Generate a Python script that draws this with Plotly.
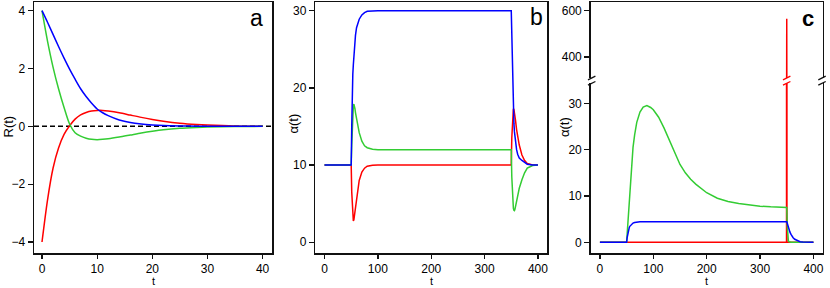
import plotly.graph_objects as go

W, H = 830, 288
def px(x): return x / W
def py(y): return 1 - y / H

RED, GREEN, BLUE = "#FF0000", "#33CC33", "#0000FF"

# ---------------- panel a ----------------
t_a = [0, 1, 2, 3, 4, 5, 6, 7, 8, 9, 10, 11, 12, 14, 16, 18, 20, 22, 25, 28, 30, 35, 40]
blue_a = [4.0, 3.6, 3.18, 2.76, 2.36, 1.98, 1.63, 1.3, 1.03, 0.8, 0.6, 0.47, 0.37, 0.22, 0.13, 0.08,
          0.05, 0.03, 0.015, 0.006, 0.004, 0.001, 0.0]
green_a = [4.0, 2.95, 2.05, 1.3, 0.65, 0.08, -0.22, -0.34, -0.41, -0.45, -0.46, -0.45, -0.43, -0.37,
           -0.3, -0.23, -0.17, -0.12, -0.07, -0.04, -0.025, -0.008, 0.0]
red_a = [-4.0, -2.55, -1.45, -0.75, -0.28, 0.02, 0.25, 0.4, 0.48, 0.53, 0.55, 0.55, 0.53, 0.47,
         0.39, 0.31, 0.24, 0.18, 0.11, 0.065, 0.045, 0.015, 0.003]

# ---------------- panel b ----------------
t_b = [0, 50, 51, 52, 53, 54, 55, 56, 57, 58, 60, 62, 65, 70, 75, 80, 90, 100,
       350, 351, 352, 353, 354, 355, 356, 357, 358, 360, 362, 365, 370, 375, 380, 390, 400]
blue_b = [10, 10, 15, 20, 21.8, 23.0, 24.4, 25.4, 26.2, 26.8, 27.8, 28.4, 28.9, 29.45, 29.75, 29.92, 29.99, 30,
          30, 26, 22.5, 19.5, 17, 15.4, 14.3, 13.5, 12.9, 12.0, 11.4, 10.9, 10.6, 10.3, 10.12, 10.02, 10]
green_b = [10, 10, 12.5, 15, 16.8, 17.7, 17.9, 17.7, 17.3, 16.8, 15.9, 15.0, 14.2, 13.1, 12.5, 12.25, 12.05, 12,
           12, 8.5, 6.2, 5.0, 4.4, 4.15, 4.1, 4.3, 4.7, 5.5, 6.1, 7.0, 8.1, 9.0, 9.6, 9.95, 10]
red_b = [10, 10, 6.5, 4.2, 3.0, 2.75, 2.9, 3.4, 3.9, 4.5, 5.6, 6.7, 8.0, 9.1, 9.6, 9.85, 9.98, 10,
         10, 13.5, 15.8, 16.9, 17.3, 17.2, 16.8, 16.3, 15.8, 14.6, 13.8, 12.6, 11.3, 10.6, 10.2, 10.02, 10]

# ---------------- panel c ----------------
t_c = [0, 50, 51, 52, 53, 54, 55, 56, 59, 62, 65, 69, 75, 81, 88, 95,
       100, 110, 120, 130, 140, 150, 160, 170, 180, 190, 200, 220, 240, 260, 280, 300,
       320, 340, 350, 351, 352, 353, 354, 356, 358, 360, 362, 365, 370, 375, 380, 390, 400]
green_c = [0, 0, 1.8, 3.5, 5.2, 7.0, 8.8, 10.5, 15.5, 20.5, 23.2, 25.9, 28.1, 29.2, 29.5, 29.1,
           28.6, 27.0, 24.7, 22.0, 19.2, 16.8, 15.0, 13.6, 12.5, 11.5, 10.7, 9.5, 8.8, 8.35, 8.0, 7.8,
           7.65, 7.55, 7.5, 3.5, 1.2, 0.4, 0.15, 0.03, 0, 0, 0, 0, 0, 0, 0, 0, 0]
blue_c = [0, 0, 1.0, 1.8, 2.4, 2.85, 3.2, 3.45, 3.9, 4.15, 4.28, 4.38, 4.42, 4.44, 4.45, 4.45,
          4.45, 4.45, 4.45, 4.45, 4.45, 4.45, 4.45, 4.45, 4.45, 4.45, 4.45, 4.45, 4.45, 4.45, 4.45, 4.45,
          4.45, 4.45, 4.45, 4.1, 3.6, 3.2, 2.8, 2.2, 1.7, 1.3, 1.0, 0.65, 0.3, 0.13, 0.05, 0.01, 0]
t_red_c = [0, 349.6, 350, 350.4, 400]
red_c = [0, 0, 565, 0, 0]

fig = go.Figure()
line_kw = dict(width=1.5)

for ys, col in [(red_a, RED), (green_a, GREEN), (blue_a, BLUE)]:
    fig.add_trace(go.Scatter(x=t_a, y=ys, mode="lines", line=dict(color=col, shape="spline", smoothing=0.8, **line_kw),
                             xaxis="x", yaxis="y", showlegend=False, hoverinfo="skip"))
for ys, col in [(red_b, RED), (green_b, GREEN), (blue_b, BLUE)]:
    fig.add_trace(go.Scatter(x=t_b, y=ys, mode="lines", line=dict(color=col, **line_kw),
                             xaxis="x2", yaxis="y2", showlegend=False, hoverinfo="skip"))
for xs, ys, col in [(t_red_c, red_c, RED), (t_c, green_c, GREEN), (t_c, blue_c, BLUE)]:
    fig.add_trace(go.Scatter(x=xs, y=ys, mode="lines", line=dict(color=col, **line_kw),
                             xaxis="x3", yaxis="y3", showlegend=False, hoverinfo="skip"))
# upper part of the broken axis: only the red spike reaches it
fig.add_trace(go.Scatter(x=t_red_c, y=red_c, mode="lines", line=dict(color=RED, **line_kw),
                         xaxis="x4", yaxis="y4", showlegend=False, hoverinfo="skip"))

FONT = "Liberation Sans, Arial, Helvetica, sans-serif"
LC = "#111111"
ax_common = dict(showline=True, linecolor=LC, linewidth=1.5, ticks="outside", ticklen=5,
                 tickwidth=1.3, tickcolor=LC, showgrid=False, zeroline=False,
                 tickfont=dict(family=FONT, size=12, color="black"))
xax_common = dict(ax_common, ticklen=4)

ybot, ytop = py(253), py(2)
fig.update_layout(
    width=W, height=H, margin=dict(l=0, r=0, t=0, b=0),
    paper_bgcolor="white", plot_bgcolor="white",
    xaxis=dict(domain=[px(34), px(272)], range=[-1.45, 41.7], anchor="y", mirror=True,
               tickvals=[0, 10, 20, 30, 40], **xax_common),
    yaxis=dict(domain=[ybot, ytop], range=[-4.38, 4.30], anchor="x", mirror=True,
               tickvals=[-4, -2, 0, 2, 4], **ax_common),
    xaxis2=dict(domain=[px(315.3), px(547)], range=[-17.3, 417], anchor="y2", mirror=True,
                tickvals=[0, 100, 200, 300, 400], **xax_common),
    yaxis2=dict(domain=[ybot, ytop], range=[-1.39, 31.13], anchor="x2", mirror=True,
                tickvals=[0, 10, 20, 30], **ax_common),
    xaxis3=dict(domain=[px(590.7), px(822.5)], range=[-17.3, 417], anchor="y3", mirror=False,
                tickvals=[0, 100, 200, 300, 400], **xax_common),
    yaxis3=dict(domain=[ybot, py(83.3)], range=[-2.31, 34.32], anchor="x3", mirror=True,
                tickvals=[0, 10, 20, 30], **ax_common),
    xaxis4=dict(domain=[px(590.7), px(822.5)], range=[-17.3, 417], anchor="y4", side="top",
                showline=True, linecolor=LC, linewidth=1.5, ticks="", showticklabels=False,
                showgrid=False, zeroline=False),
    yaxis4=dict(domain=[py(78), ytop], range=[309.3, 637.6], anchor="x4", mirror=True,
                tickvals=[400, 600], **ax_common),
)

shapes = [dict(type="line", xref="x domain", yref="y", x0=0, x1=1, y0=0, y1=0, layer="below",
               line=dict(color="black", width=1.5, dash="5px,3px"))]
# break marks
for xc, col in [(591.7, LC), (822.0, LC), (786.7, RED)]:
    for yc in (78.0, 83.3):
        shapes.append(dict(type="line", xref="paper", yref="paper",
                           x0=px(xc - 3.7), y0=py(yc + 1.8), x1=px(xc + 3.7), y1=py(yc - 1.8),
                           line=dict(color=col, width=1.3)))
fig.update_layout(shapes=shapes)

ann = []
def text(x, y, s, size=12, angle=0, yanchor="middle", pad=1):
    ann.append(dict(x=px(x), y=py(y), xref="paper", yref="paper", text=s, showarrow=False,
                    xanchor="center", yanchor=yanchor, textangle=angle, borderpad=pad,
                    font=dict(family=FONT, size=size, color="black")))
for xc in (153, 431, 706.6):
    text(xc, 288, "t", 11, yanchor="bottom", pad=0)
text(8, 126.5, "R(t)", 13, -90)
text(292.5, 124, "α(t)", 13, -90)
text(564, 127, "α(t)", 13, -90)
text(256.7, 18, "a", 23)
text(536, 17.5, "b", 23)
text(807.7, 18, "<b>c</b>", 22)
fig.update_layout(annotations=ann)

fig.write_html("out.html", config={"displayModeBar": False, "staticPlot": True},
               post_script="document.body.style.margin='0px';document.body.style.overflow='hidden';")
